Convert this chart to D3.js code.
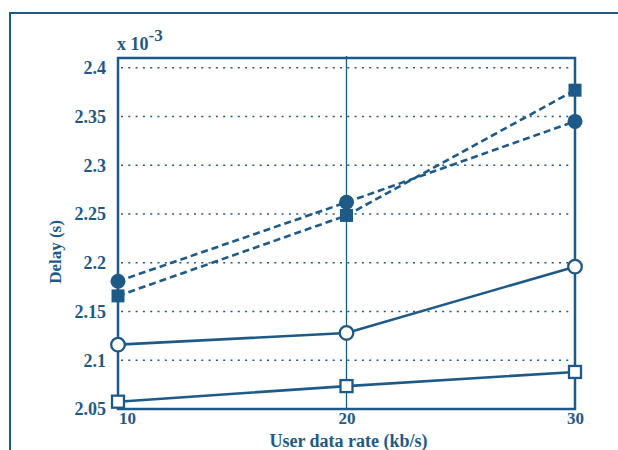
<!DOCTYPE html>
<html>
<head>
<meta charset="utf-8">
<script src="https://cdn.jsdelivr.net/npm/d3@7"></script>
<style>
  body { margin: 0; background: #fff; }
  text { font-family: "Liberation Serif", serif; font-weight: bold; fill: #1e5a88; }
</style>
</head>
<body>
<div id="draw_zone"></div>
<script>
// data (delay in units of 1e-3 s)
var rates = [10, 20, 30];
var openSquare = [2.0575, 2.0735, 2.088];
var openCircle = [2.116, 2.128, 2.196];
var filledSquare = [2.166, 2.2485, 2.377];
var filledCircle = [2.181, 2.262, 2.345];
var yTicks = [2.05, 2.1, 2.15, 2.2, 2.25, 2.3, 2.35, 2.4];
var xTicks = [10, 20, 30];

var col = "#1e5a88";
var holder = d3.select("#draw_zone").append("svg").attr("width", 618).attr("height", 450);

// outer frame
holder.append("path").attr("d", "M10,450V13H618").style("fill", "none").style("stroke", col).style("stroke-width", 2);

var x = d3.scaleLinear().domain([10, 30]).range([118, 575]);
var y = d3.scaleLinear().domain([2.05, 2.41]).range([409, 58]);

// dotted grid
holder.append("g").selectAll("line").data(yTicks.slice(1)).enter().append("line")
  .attr("x1", 121).attr("x2", 571)
  .attr("y1", function(d) { return y(d); }).attr("y2", function(d) { return y(d); })
  .style("stroke", col).style("stroke-width", 1.5).style("stroke-dasharray", "2,5.3");

// thin vertical line at 20
holder.append("line").attr("x1", x(20)).attr("x2", x(20)).attr("y1", 56).attr("y2", 409)
  .style("stroke", col).style("stroke-width", 1.3);

// axes
var yAxis = d3.axisLeft(y).tickValues(yTicks).tickSize(0).tickPadding(12).tickFormat(d3.format("~g"));
var xAxis = d3.axisBottom(x).tickValues(xTicks).tickSize(0).tickPadding(3).tickFormat(d3.format("d"));
var gy = holder.append("g").attr("transform", "translate(118,0)").call(yAxis);
var gx = holder.append("g").attr("transform", "translate(0,409)").call(xAxis);
[gy, gx].forEach(function(g) {
  g.select(".domain").remove();
  g.selectAll("text").style("fill", col).style("font-family", "Liberation Serif").style("font-weight", "bold");
});
gy.selectAll("text").style("font-size", "18px");
gx.selectAll("text").style("font-size", "17px");
gx.selectAll("text").filter(function(d) { return d === 10; }).attr("dx", 9);

// plot box
holder.append("rect").attr("x", 118).attr("y", 58).attr("width", 575 - 118).attr("height", 409 - 58)
  .style("fill", "none").style("stroke", col).style("stroke-width", 2.5);

var line = d3.line().x(function(d, i) { return x(rates[i]); }).y(function(d) { return y(d); });

function series(vals, dashed, shape, filled) {
  holder.append("path").datum(vals).attr("d", line)
    .style("fill", "none").style("stroke", col).style("stroke-width", 2.6)
    .style("stroke-dasharray", dashed ? "7,4" : null);
  var g = holder.append("g");
  vals.forEach(function(v, i) {
    var cx = x(rates[i]), cy = y(v);
    var m;
    if (shape === "circle") {
      m = g.append("circle").attr("cx", cx).attr("cy", cy).attr("r", filled ? 7.5 : 6.8);
    } else {
      var s = filled ? 13 : 12;
      m = g.append("rect").attr("x", cx - s / 2).attr("y", cy - s / 2).attr("width", s).attr("height", s);
    }
    m.style("fill", filled ? col : "#fff").style("stroke", col).style("stroke-width", filled ? 0 : 2.3);
  });
}

series(openSquare, false, "square", false);
series(openCircle, false, "circle", false);
series(filledSquare, true, "square", true);
series(filledCircle, true, "circle", true);

// labels
holder.append("text").attr("x", x(20) + 2).attr("y", 447).attr("text-anchor", "middle")
  .style("font-size", "18px").text("User data rate (kb/s)");
holder.append("text").attr("transform", "translate(61,252) rotate(-90)").attr("text-anchor", "middle")
  .style("font-size", "17px").text("Delay (s)");
var ex = holder.append("text").attr("x", 117).attr("y", 50).style("font-size", "18px");
ex.append("tspan").text("x 10");
ex.append("tspan").attr("dy", -9).style("font-size", "17px").text("-3");
</script>
</body>
</html>
